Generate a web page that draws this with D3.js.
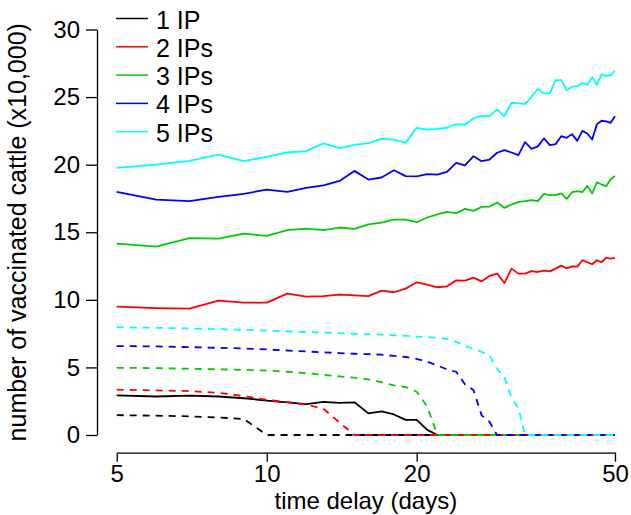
<!DOCTYPE html>
<html>
<head>
<meta charset="utf-8">
<script src="https://cdn.jsdelivr.net/npm/d3@7"></script>
<style>
  html, body { margin: 0; padding: 0; background: #fff; }
  svg text { font-family: "Liberation Sans", Arial, Helvetica, sans-serif; fill: #000; }
</style>
</head>
<body>
<svg id="chart" width="631" height="515"></svg>
<script>
// ---- data ----
const days = [5,6,7,8,9,10,11,12,13,14,15,16,17,18,19,20,21,22,23,24,25,26,27,28,29,30,
              31,32,33,34,35,36,37,38,39,40,41,42,43,44,45,46,47,48,49,50];

const seriesNames = ["1 IP", "2 IPs", "3 IPs", "4 IPs", "5 IPs"];
const seriesColors = ["#000000", "#ff0000", "#00cc00", "#0000ff", "#00ffff"];

// solid lines
const solid1 = [2.93,2.85,2.92,2.85,2.72,2.55,2.42,2.28,2.45,2.37,2.42,1.60,1.74,1.52,1.12,1.12,0.38,0,0,0,0,0,0,0,0,0,
                0,0,0,0,0,0,0,0,0,0,0,0,0,0,0,0,0,0,0,0];
const solid2 = [9.50,9.39,9.35,9.94,9.79,9.79,10.46,10.24,10.28,10.38,10.33,10.28,10.68,10.56,10.83,11.30,11.12,10.93,11.00,11.44,11.42,11.64,11.37,11.77,11.94,11.25,
                12.31,11.94,11.94,12.13,12.06,12.16,12.11,12.31,12.53,12.33,12.48,12.46,12.93,12.78,12.63,12.93,12.78,13.12,13.05,13.10];
const solid3 = [14.16,13.94,14.56,14.53,14.90,14.73,15.15,15.27,15.15,15.35,15.25,15.59,15.72,15.94,15.94,15.74,16.09,16.33,16.51,16.41,16.73,16.58,16.88,16.90,17.20,16.80,
                17.05,17.25,17.30,17.37,17.30,17.84,17.74,17.74,17.87,17.47,17.96,18.04,17.96,18.43,17.87,18.70,18.53,18.41,18.90,19.17];
const solid4 = [17.99,17.42,17.30,17.62,17.84,18.16,17.99,18.28,18.46,18.80,19.54,18.90,19.05,19.59,19.15,19.13,19.30,19.27,19.47,20.13,19.94,20.63,20.26,20.38,20.88,21.07,
                20.90,20.70,21.67,21.17,21.35,21.94,21.44,21.52,22.11,21.99,22.26,21.76,22.50,22.31,21.86,23.00,23.25,23.20,23.10,23.59];
const solid5 = [19.76,20.00,20.28,20.75,20.26,20.58,20.90,21.00,21.57,21.22,21.47,21.60,21.91,21.86,21.61,22.73,22.60,22.65,22.73,23.00,22.95,23.44,23.59,23.62,24.09,23.57,
                24.58,24.53,24.48,25.02,25.62,25.27,25.27,26.26,26.26,25.52,25.76,25.81,26.06,25.89,26.46,25.91,26.70,26.56,26.63,26.95];

// dashed lines
const dashed1 = [1.47,1.43,1.38,1.30,1.18,0,0,0,0,0,0,0,0,0,0,0,0,0,0,0,0,0,0,0,0,0,
                 0,0,0,0,0,0,0,0,0,0,0,0,0,0,0,0,0,0,0,0];
const dashed2 = [3.35,3.30,3.25,3.12,2.88,2.60,2.43,2.25,1.94,0.92,0,0,0,0,0,0,0,0,0,0,0,0,0,0,0,0,
                 0,0,0,0,0,0,0,0,0,0,0,0,0,0,0,0,0,0,0,0];
const dashed3 = [4.97,4.95,4.90,4.86,4.82,4.76,4.68,4.58,4.45,4.33,4.24,4.11,3.91,3.67,3.55,3.20,2.10,0,0,0,0,0,0,0,0,0,
                 0,0,0,0,0,0,0,0,0,0,0,0,0,0,0,0,0,0,0,0];
const dashed4 = [6.58,6.55,6.50,6.45,6.40,6.33,6.25,6.18,6.11,6.06,6.01,5.98,5.94,5.85,5.77,5.64,5.42,5.15,4.85,4.68,3.75,3.32,1.45,0.97,0,0,
                 0,0,0,0,0,0,0,0,0,0,0,0,0,0,0,0,0,0,0,0];
const dashed5 = [7.97,7.93,7.88,7.83,7.78,7.72,7.67,7.62,7.57,7.53,7.49,7.46,7.43,7.38,7.33,7.28,7.24,7.20,7.12,6.90,6.62,6.35,6.15,5.88,4.88,4.30,
                 2.70,2.00,0,0,0,0,0,0,0,0,0,0,0,0,0,0,0,0,0,0];

const xTicks = [5, 10, 20, 50];
const yTicks = [0, 5, 10, 15, 20, 25, 30];
const xTitle = "time delay (days)";
const yTitle = "number of vaccinated cattle (x10,000)";

// ---- drawing ----
const svg = d3.select("#chart");
const FONT = 25;
const TICKFONT = 24;

const x = d3.scaleLog().domain([5, 50]).range([116.7, 615]);
const y = d3.scaleLinear().domain([0, 30]).range([435, 29.5]);

// y axis
const yAxis = svg.append("g")
  .attr("transform", "translate(97,0)")
  .call(d3.axisLeft(y).tickValues(yTicks).tickFormat(d3.format("d"))
        .tickSize(11).tickSizeOuter(0).tickPadding(6));
// x axis
const xAxis = svg.append("g")
  .attr("transform", "translate(0,452.7)")
  .call(d3.axisBottom(x).tickValues(xTicks).tickFormat(d3.format("d"))
        .tickSize(9).tickSizeOuter(0).tickPadding(3));

[yAxis, xAxis].forEach(g => {
  g.selectAll("path.domain").attr("stroke", "#000").attr("stroke-width", 1.3);
  g.selectAll(".tick line").attr("stroke", "#000").attr("stroke-width", 1.3);
  g.selectAll(".tick text").style("font-size", TICKFONT + "px")
    .style("font-family", '"Liberation Sans", Arial, sans-serif').attr("fill", "#000");
});

// titles
svg.append("text")
  .attr("x", (x.range()[0] + x.range()[1]) / 2)
  .attr("y", 509)
  .attr("text-anchor", "middle")
  .style("font-size", "24px")
  .text(xTitle);

svg.append("text")
  .attr("transform", `translate(26,${(y.range()[0] + y.range()[1]) / 2}) rotate(-90)`)
  .attr("text-anchor", "middle")
  .style("font-size", FONT + "px")
  .text(yTitle);

// lines
const line = d3.line().x((d, i) => x(days[i])).y(d => y(d));
const solids = [solid1, solid2, solid3, solid4, solid5];
const dashes = [dashed1, dashed2, dashed3, dashed4, dashed5];

const plot = svg.append("g");
solids.forEach((s, k) => {
  plot.append("path").datum(s)
    .attr("d", line)
    .attr("fill", "none")
    .attr("stroke", seriesColors[k])
    .attr("stroke-width", 1.8)
    .attr("stroke-linejoin", "round");
});
dashes.forEach((s, k) => {
  plot.append("path").datum(s)
    .attr("d", line)
    .attr("fill", "none")
    .attr("stroke", seriesColors[k])
    .attr("stroke-width", 1.8)
    .attr("stroke-dasharray", "7,6");
});

// legend
const legend = svg.append("g");
seriesNames.forEach((name, k) => {
  const ly = 18.5 + k * 28.3;
  legend.append("line")
    .attr("x1", 116).attr("x2", 148)
    .attr("y1", ly).attr("y2", ly)
    .attr("stroke", seriesColors[k])
    .attr("stroke-width", 1.5);
  legend.append("text")
    .attr("x", 156).attr("y", ly + 10)
    .style("font-size", FONT + "px")
    .text(name);
});
</script>
</body>
</html>
